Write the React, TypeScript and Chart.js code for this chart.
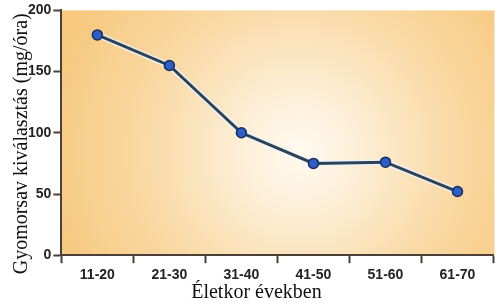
import React, { useEffect, useRef } from "react";
import { Chart, registerables } from "chart.js";

Chart.register(...registerables);

const categories = ["11-20", "21-30", "31-40", "41-50", "51-60", "61-70"];
const acidValues = [180, 155, 100, 75, 76, 52];
const yTicks = [0, 50, 100, 150, 200];
const yTitle = "Gyomorsav kiválasztás (mg/óra)";
const xTitle = "Életkor években";

const bgPlugin = {
  id: "bgGradient",
  beforeDraw(chart: any) {
    const { ctx, chartArea } = chart;
    const { left, top, right, bottom } = chartArea;
    const w = right - left;
    const h = bottom - top;
    const cx = left + w * 0.55;
    const cy = top + h * 0.58;
    ctx.save();
    ctx.fillStyle = "#ffffff";
    ctx.fillRect(0, 0, chart.width, chart.height);
    const g = ctx.createRadialGradient(cx, cy, 0, cx, cy, w * 0.6);
    g.addColorStop(0, "#fffaf0");
    g.addColorStop(0.2, "#fdf0da");
    g.addColorStop(0.6, "#f9d9a4");
    g.addColorStop(1, "#f7c87e");
    ctx.fillStyle = g;
    ctx.fillRect(left, top, w + 1, h);
    ctx.restore();
  },
  afterDraw(chart: any) {
    const { ctx, chartArea } = chart;
    ctx.save();
    ctx.fillStyle = "#111111";
    ctx.font = "20px 'Liberation Serif', 'Times New Roman', serif";
    ctx.textAlign = "center";
    ctx.textBaseline = "middle";
    ctx.save();
    ctx.translate(22, (chartArea.top + chartArea.bottom) / 2 + 11);
    ctx.rotate(-Math.PI / 2);
    ctx.fillText(yTitle, 0, 0);
    ctx.restore();
    ctx.textBaseline = "alphabetic";
    ctx.fillText(xTitle, (chartArea.left + chartArea.right) / 2 - 21, 298);
    ctx.restore();
  },
};

export default function App() {
  const ref = useRef<HTMLCanvasElement | null>(null);
  useEffect(() => {
    if (!ref.current) return;
    const tickFont = { family: "'Liberation Sans', Arial, sans-serif", size: 14, weight: "bold" as const };
    const chart = new Chart(ref.current, {
      type: "line",
      data: {
        labels: categories,
        datasets: [
          {
            data: acidValues,
            borderColor: "#2c4255",
            borderWidth: 3,
            pointRadius: 5,
            pointBackgroundColor: "#2d5fc4",
            pointBorderColor: "#1a2c66",
            pointBorderWidth: 1.5,
            tension: 0,
            fill: false,
          },
          {
            data: acidValues,
            borderColor: "rgba(235,242,255,0.8)",
            borderWidth: 6,
            pointRadius: 0,
            tension: 0,
            fill: false,
          },
        ],
      },
      options: {
        animation: false,
        responsive: false,
        maintainAspectRatio: false,
        layout: { padding: { left: 26, right: 4, top: 2, bottom: 20 } },
        plugins: { legend: { display: false }, tooltip: { enabled: false } },
        scales: {
          x: {
            offset: true,
            grid: {
              offset: true,
              drawOnChartArea: false,
              drawTicks: true,
              tickLength: 8,
              tickColor: "#4a4038",
              tickWidth: 2,
            },
            border: { display: true, color: "#4a4038", width: 2 },
            ticks: { color: "#222222", font: tickFont, padding: 4 },
          },
          y: {
            min: 0,
            max: 200,
            afterBuildTicks: (axis: any) => {
              axis.ticks = yTicks.map((v) => ({ value: v }));
            },
            grid: {
              drawOnChartArea: false,
              drawTicks: true,
              tickLength: 8,
              tickColor: "#4a4038",
              tickWidth: 2,
            },
            border: { display: true, color: "#4a4038", width: 2 },
            ticks: { color: "#222222", font: tickFont, padding: 2 },
          },
        },
      },
      plugins: [bgPlugin],
    });
    return () => chart.destroy();
  }, []);
  return (
    <div style={{ position: "absolute", left: 0, top: 0, width: 500, height: 308 }}>
      <canvas ref={ref} width={500} height={308} style={{ width: 500, height: 308 }} />
    </div>
  );
}
